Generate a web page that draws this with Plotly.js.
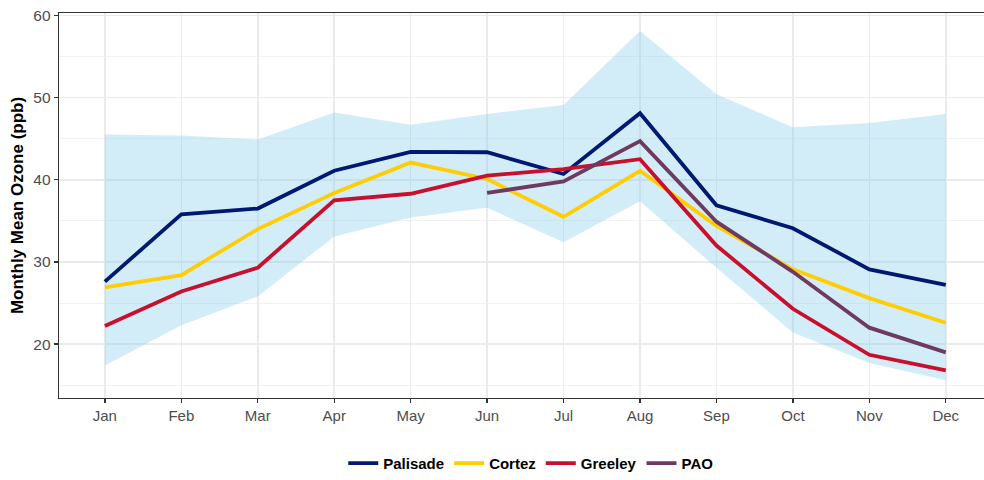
<!DOCTYPE html>
<html>
<head>
<meta charset="utf-8">
<script src="https://cdn.plot.ly/plotly-3.0.1.min.js"></script>
<style>html,body{margin:0;padding:0;background:#fff;}#chart{width:984px;height:480px;}</style>
</head>
<body>
<div id="chart"></div>
<script>
const months = ["Jan","Feb","Mar","Apr","May","Jun","Jul","Aug","Sep","Oct","Nov","Dec"];
const palisade = [27.6,35.8,36.5,41.1,43.4,43.35,40.7,48.1,36.9,34.1,29.1,27.2];
const cortez   = [26.9,28.4,34.0,38.4,42.1,40.1,35.5,41.1,34.4,29.1,25.6,22.6];
const greeley  = [22.2,26.4,29.3,37.5,38.3,40.5,41.3,42.5,32.0,24.3,18.7,16.8];
const pao      = [null,null,null,null,null,38.4,39.8,44.7,34.9,28.8,22.0,19.0];
const rangeUpper = [45.5,45.4,44.9,48.2,46.7,48.0,49.1,58.1,50.4,46.4,46.9,48.0];
const rangeLower = [17.4,22.3,25.8,33.1,35.4,36.6,32.4,37.4,29.3,21.4,17.7,15.6];
const yTicks = [20,30,40,50,60];
const yMinorTicks = [15,25,35,45,55];

const xIdx = months.map((m,i)=>i+1);
const lw = 3.8;
const traces = [
  {x:xIdx, y:rangeUpper, mode:'lines', line:{width:0}, showlegend:false, hoverinfo:'skip'},
  {x:xIdx, y:rangeLower, mode:'lines', line:{width:0}, fill:'tonexty', fillcolor:'rgba(135,206,235,0.37)', showlegend:false, hoverinfo:'skip'},
  {x:xIdx, y:palisade, mode:'lines', name:'Palisade', line:{color:'#001970', width:lw}},
  {x:xIdx, y:cortez, mode:'lines', name:'Cortez', line:{color:'#FFCD00', width:lw}},
  {x:xIdx, y:greeley, mode:'lines', name:'Greeley', line:{color:'#C8102E', width:lw}},
  {x:xIdx, y:pao, mode:'lines', name:'PAO', line:{color:'#6F3A60', width:lw}, connectgaps:false}
];
const layout = {
  width:984, height:480,
  margin:{l:59, r:0, t:13, b:79},
  paper_bgcolor:'#fff', plot_bgcolor:'#fff',
  font:{family:'Liberation Sans, Arial, sans-serif', color:'#4d4d4d'},
  xaxis:{
    range:[0.4,12.5], tickmode:'array', tickvals:xIdx, ticktext:months,
    showgrid:true, gridcolor:'#ebebeb', gridwidth:1.5,
    showline:true, linecolor:'#333', linewidth:1.3, mirror:true,
    ticks:'outside', ticklen:4, tickcolor:'#333', tickwidth:1.3,
    tickfont:{size:15, color:'#4d4d4d'}, zeroline:false
  },
  yaxis:{
    range:[13.44,60.3], tickvals:yTicks,
    showgrid:true, gridcolor:'#ebebeb', gridwidth:1.5,
    minor:{tickvals:yMinorTicks, showgrid:true, gridcolor:'#f2f2f2', gridwidth:1},
    showline:true, linecolor:'#333', linewidth:1.3,
    ticks:'outside', ticklen:4, tickcolor:'#333', tickwidth:1.3,
    tickfont:{size:15.5, color:'#4d4d4d'}, zeroline:false,
    title:{text:'Monthly Mean Ozone (ppb)', font:{size:17, color:'#000', family:'Liberation Sans, Arial, sans-serif', weight:'bold'}, standoff:5}
  },
  showlegend:true,
  legend:{orientation:'h', x:0.51, xanchor:'center', y:-0.17, yanchor:'middle',
    font:{size:15, color:'#000', weight:'bold'}, itemwidth:30, traceorder:'normal'}
};
Plotly.newPlot('chart', traces, layout, {displayModeBar:false, staticPlot:true});
</script>
</body>
</html>
